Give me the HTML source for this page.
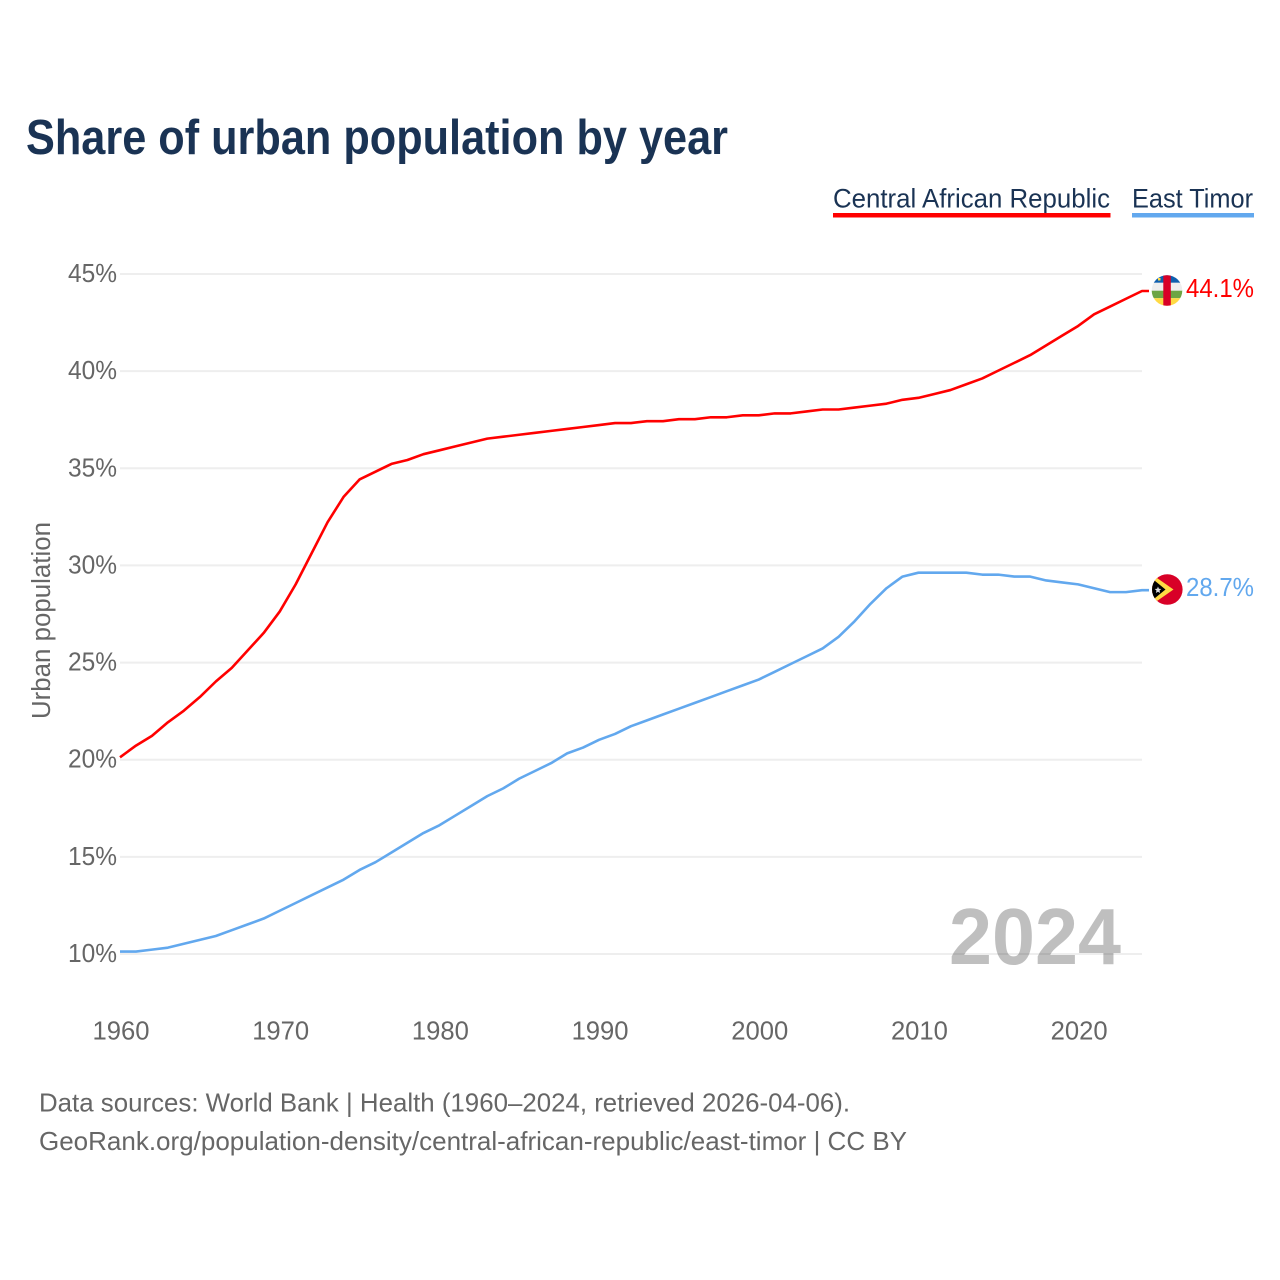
<!DOCTYPE html>
<html lang="en">
<head>
<meta charset="utf-8">
<title>Share of urban population by year</title>
<style>
html,body{margin:0;padding:0;background:#fff;}
svg{display:block;font-family:"Liberation Sans",sans-serif;}
</style>
</head>
<body>
<svg id="chart" xmlns="http://www.w3.org/2000/svg" width="1280" height="1280" viewBox="0 0 1280 1280">
  <defs>
    <clipPath id="flag-clip-a"><circle cx="1167" cy="290.500" r="15.300"/></clipPath>
    <clipPath id="flag-clip-b"><circle cx="1167.300" cy="589.500" r="15.300"/></clipPath>
  </defs>
  <rect x="0" y="0" width="1280" height="1280" fill="#fff"/>
  <text x="26" y="154" font-size="49" font-weight="700" fill="#1a3354" textLength="702" lengthAdjust="spacingAndGlyphs">Share of urban population by year</text>

  <g>
    <text x="833" y="207.500" font-size="26.500" fill="#1a3354" textLength="277" lengthAdjust="spacingAndGlyphs">Central African Republic</text>
    <rect x="833" y="213" width="277.500" height="4.500" fill="#ff0000"/>
  </g>
  <g>
    <text x="1132" y="207.500" font-size="26.500" fill="#1a3354" textLength="121" lengthAdjust="spacingAndGlyphs">East Timor</text>
    <rect x="1132" y="213" width="122" height="4.500" fill="#62a8ee"/>
  </g>

  <g id="grid"></g>
  <g id="yticks"></g>
  <g id="xticks"></g>

  <text transform="translate(50,620.500) rotate(-90)" text-anchor="middle" font-size="25.500" fill="#666" textLength="197" lengthAdjust="spacingAndGlyphs">Urban population</text>
  <text x="949" y="964" font-size="80" font-weight="700" fill="#000" fill-opacity="0.25" textLength="172" lengthAdjust="spacingAndGlyphs">2024</text>

  <g id="series" transform="translate(0,-0.500)"></g>

  <g clip-path="url(#flag-clip-a)">
    <rect x="1151" y="275" width="32" height="7.800" fill="#0f5fae"/>
    <rect x="1151" y="282.800" width="32" height="7.900" fill="#eeeeee"/>
    <rect x="1151" y="290.700" width="32" height="7.500" fill="#6da544"/>
    <rect x="1151" y="298.200" width="32" height="8" fill="#ffda44"/>
    <rect x="1163.300" y="275" width="7.500" height="32" fill="#d80027"/>
    <rect x="1158" y="278" width="2.500" height="2.500" fill="#ffda44"/>
  </g>
  <g clip-path="url(#flag-clip-b)">
    <rect x="1151" y="574" width="33" height="31" fill="#d80027"/>
    <polygon points="1152,574.500 1173.500,589.500 1152,604.500" fill="#ffda44"/>
    <polygon points="1152,578.500 1165.500,589.500 1152,600.500" fill="#000"/>
    <polygon points="1158,586.500 1158.900,588.700 1161.300,589 1159.500,590.500 1160.100,593 1158,591.700 1155.900,593 1156.500,590.500 1154.700,589 1157.100,588.700" fill="#ddd"/>
  </g>
  <text x="1186" y="297" font-size="26" fill="#ff0000" textLength="68" lengthAdjust="spacingAndGlyphs">44.1%</text>
  <text x="1186" y="596" font-size="26" fill="#62a8ee" textLength="68" lengthAdjust="spacingAndGlyphs">28.7%</text>

  <text x="39" y="1111.500" font-size="26" fill="#666" textLength="811" lengthAdjust="spacingAndGlyphs">Data sources: World Bank | Health (1960–2024, retrieved 2026-04-06).</text>
  <text x="39" y="1150" font-size="26" fill="#666" textLength="868" lengthAdjust="spacingAndGlyphs">GeoRank.org/population-density/central-african-republic/east-timor | CC BY</text>
</svg>
<script>
const firstYear = 1960;
const lastYear = 2024;
const yTickValues = [10, 15, 20, 25, 30, 35, 40, 45];
const xTickValues = [1960, 1970, 1980, 1990, 2000, 2010, 2020];
const centralAfricanRepublic = [20.1,20.7,21.2,21.9,22.5,23.2,24.0,24.7,25.6,26.5,27.6,29.0,30.6,32.2,33.5,34.4,34.8,35.2,35.4,35.7,35.9,36.1,36.3,36.5,36.6,36.7,36.8,36.9,37.0,37.1,37.2,37.3,37.3,37.4,37.4,37.5,37.5,37.6,37.6,37.7,37.7,37.8,37.8,37.9,38.0,38.0,38.1,38.2,38.3,38.5,38.6,38.8,39.0,39.3,39.6,40.0,40.4,40.8,41.3,41.8,42.3,42.9,43.3,43.7,44.1];
const eastTimor = [10.1,10.1,10.2,10.3,10.5,10.7,10.9,11.2,11.5,11.8,12.2,12.6,13.0,13.4,13.8,14.3,14.7,15.2,15.7,16.2,16.6,17.1,17.6,18.1,18.5,19.0,19.4,19.8,20.3,20.6,21.0,21.3,21.7,22.0,22.3,22.6,22.9,23.2,23.5,23.8,24.1,24.5,24.9,25.3,25.7,26.3,27.1,28.0,28.8,29.4,29.6,29.6,29.6,29.6,29.5,29.5,29.4,29.4,29.2,29.1,29.0,28.8,28.6,28.6,28.7];

const NS = 'http://www.w3.org/2000/svg';
function xScale(year) { return 120 + (year - firstYear) * (1142 - 120) / (lastYear - firstYear); }
function yScale(pct) { return 954 - (pct - 10) * (954 - 274) / 35; }

const gridLayer = document.getElementById('grid');
const yTickLayer = document.getElementById('yticks');
const xTickLayer = document.getElementById('xticks');
const seriesLayer = document.getElementById('series');

yTickValues.forEach(function (v) {
  const line = document.createElementNS(NS, 'line');
  
  
  line.setAttribute('x1', 120);
  line.setAttribute('x2', 1142);
  line.setAttribute('y1', yScale(v));
  line.setAttribute('y2', yScale(v));
  line.setAttribute('stroke', '#eeeeee');
  line.setAttribute('stroke-width', 2);
  gridLayer.appendChild(line);

  const label = document.createElementNS(NS, 'text');
  
  
  label.setAttribute('x', 68);
  label.setAttribute('y', yScale(v) + 8);
  label.setAttribute('font-size', 25.5);
  label.setAttribute('fill', '#666');
  label.setAttribute('textLength', 49);
  label.setAttribute('lengthAdjust', 'spacingAndGlyphs');
  label.textContent = v + '%';
  yTickLayer.appendChild(label);
});

xTickValues.forEach(function (year) {
  const label = document.createElementNS(NS, 'text');
  
  
  label.setAttribute('x', xScale(year) - 27.5);
  label.setAttribute('y', 1039.5);
  label.setAttribute('font-size', 25.5);
  label.setAttribute('fill', '#666');
  label.setAttribute('textLength', 57);
  label.setAttribute('lengthAdjust', 'spacingAndGlyphs');
  label.textContent = String(year);
  xTickLayer.appendChild(label);
});

function linePoints(values) {
  const pts = values.map(function (v, i) {
    return xScale(firstYear + i).toFixed(2) + ',' + yScale(v).toFixed(2);
  });
  pts.push('1149,' + yScale(values[values.length - 1]).toFixed(2));
  return pts.join(' ');
}

const carLine = document.createElementNS(NS, 'polyline');


carLine.setAttribute('points', linePoints(centralAfricanRepublic));
carLine.setAttribute('fill', 'none');
carLine.setAttribute('stroke', '#ff0000');
carLine.setAttribute('stroke-width', 2.6);
carLine.setAttribute('stroke-linejoin', 'round');
seriesLayer.appendChild(carLine);

const timorLine = document.createElementNS(NS, 'polyline');


timorLine.setAttribute('points', linePoints(eastTimor));
timorLine.setAttribute('fill', 'none');
timorLine.setAttribute('stroke', '#62a8ee');
timorLine.setAttribute('stroke-width', 2.6);
timorLine.setAttribute('stroke-linejoin', 'round');
seriesLayer.appendChild(timorLine);
</script>
</body>
</html>
